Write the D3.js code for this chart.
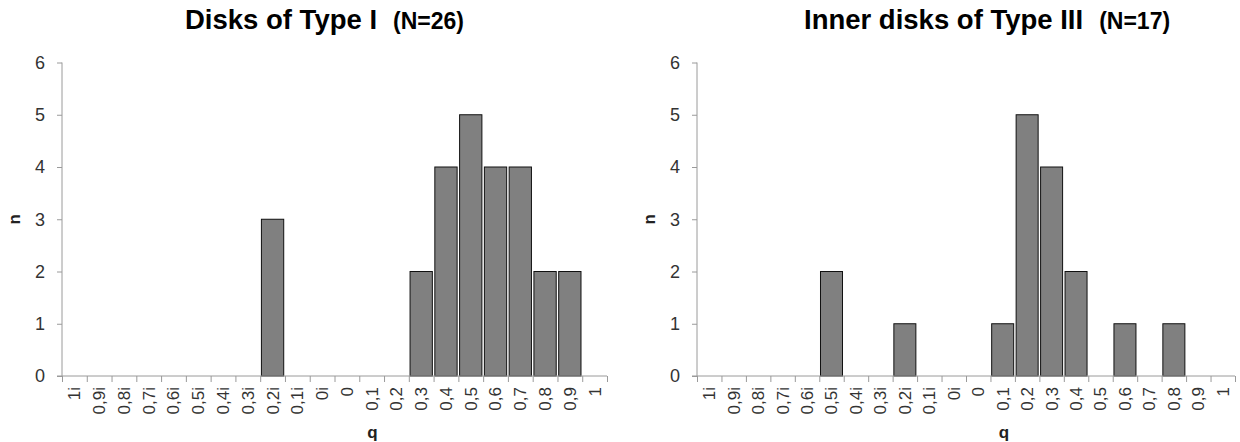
<!DOCTYPE html>
<html>
<head>
<meta charset="utf-8">
<script src="https://cdn.jsdelivr.net/npm/d3@7"></script>
<style>
  body { margin: 0; background: #fff; }
  svg text { font-family: "Liberation Sans", Arial, sans-serif; }
</style>
</head>
<body>
<div id="vis"></div>
<script>
// q categories, shared by both panels
var categories = ["1i", "0,9i", "0,8i", "0,7i", "0,6i", "0,5i", "0,4i", "0,3i", "0,2i", "0,1i", "0i",
                  "0", "0,1", "0,2", "0,3", "0,4", "0,5", "0,6", "0,7", "0,8", "0,9", "1"];

// counts per category
var typeI = [0, 0, 0, 0, 0, 0, 0, 0, 3, 0, 0, 0, 0, 0, 2, 4, 5, 4, 4, 2, 2, 0];
var typeIIIinner = [0, 0, 0, 0, 0, 2, 0, 0, 1, 0, 0, 0, 1, 5, 4, 2, 0, 1, 0, 1, 0, 0];

var yTicks = [0, 1, 2, 3, 4, 5, 6];

var titles = ["Disks of Type I", "Inner disks of Type III"];
var subtitles = ["(N=26)", "(N=17)"];

var width = 1240, height = 442;

var svg = d3.select("#vis").append("svg")
  .attr("width", width)
  .attr("height", height);

function drawPanel(values, title, sub, left, right, titleX) {
  var top = 62.5, bottom = 376;
  var g = svg.append("g");

  var x = d3.scaleBand().domain(categories).range([left, right])
    .paddingInner(0.1).paddingOuter(0.05);
  var xb = d3.scaleLinear().domain([0, categories.length]).range([left, right]);
  var y = d3.scaleLinear().domain([0, 6]).range([bottom, top]);

  // bars
  g.selectAll("rect.bar")
    .data(values.map(function(v, i) { return {c: categories[i], v: v}; }).filter(function(d) { return d.v > 0; }))
    .enter().append("rect")
    .attr("class", "bar")
    .attr("x", function(d) { return x(d.c); })
    .attr("width", x.bandwidth())
    .attr("y", function(d) { return y(d.v); })
    .attr("height", function(d) { return y(0) - y(d.v); })
    .style("fill", "#808080")
    .style("stroke", "#111")
    .style("stroke-width", 1);

  // y axis
  var ya = g.append("g")
    .attr("transform", "translate(" + left + ",0)")
    .call(d3.axisLeft(y).tickValues(yTicks).tickSize(5).tickPadding(12).tickFormat(d3.format("d")));
  ya.select(".domain").attr("stroke", "#9a9a9a").attr("d", "M0," + top + "V" + bottom);
  ya.selectAll(".tick line").attr("stroke", "#9a9a9a");
  ya.selectAll(".tick text").style("font-size", "18px").attr("fill", "#333");

  // x axis ticks at category boundaries
  var xa = g.append("g")
    .attr("transform", "translate(0," + bottom + ")")
    .call(d3.axisBottom(xb).tickValues(d3.range(categories.length + 1)).tickSize(6).tickFormat(""));
  xa.select(".domain").attr("stroke", "#9a9a9a").attr("d", "M" + (left - 5) + ",0H" + right);
  xa.selectAll(".tick line").attr("stroke", "#9a9a9a");

  // x labels, rotated
  var xl = g.append("g")
    .attr("transform", "translate(0," + bottom + ")")
    .call(d3.axisBottom(x).tickSize(0).tickPadding(0));
  xl.select(".domain").remove();
  xl.selectAll(".tick text")
    .style("font-size", "17px")
    .attr("fill", "#333")
    .attr("transform", "rotate(-90)")
    .attr("text-anchor", "end")
    .attr("x", -11)
    .attr("y", 0)
    .attr("dy", "0.35em");

  // axis titles
  g.append("text")
    .attr("transform", "translate(" + (left - 48) + "," + ((top + bottom) / 2) + ") rotate(-90)")
    .attr("text-anchor", "middle")
    .attr("dy", "0.35em")
    .style("font-size", "17px")
    .style("font-weight", "bold")
    .attr("fill", "#222")
    .text("n");

  g.append("text")
    .attr("x", (left + right) / 2 + 38)
    .attr("y", 438)
    .attr("text-anchor", "middle")
    .style("font-size", "17px")
    .style("font-weight", "bold")
    .attr("fill", "#222")
    .text("q");

  // title
  var t = g.append("text")
    .attr("x", titleX)
    .attr("y", 29)
    .style("font-weight", "bold")
    .attr("fill", "#000");
  t.append("tspan").style("font-size", "27.5px").text(title);
  t.append("tspan").attr("dx", 16).style("font-size", "23px").text(sub);
}

drawPanel(typeI, titles[0], subtitles[0], 62, 607, 185);
drawPanel(typeIIIinner, titles[1], subtitles[1], 697, 1235, 804);
</script>
</body>
</html>
